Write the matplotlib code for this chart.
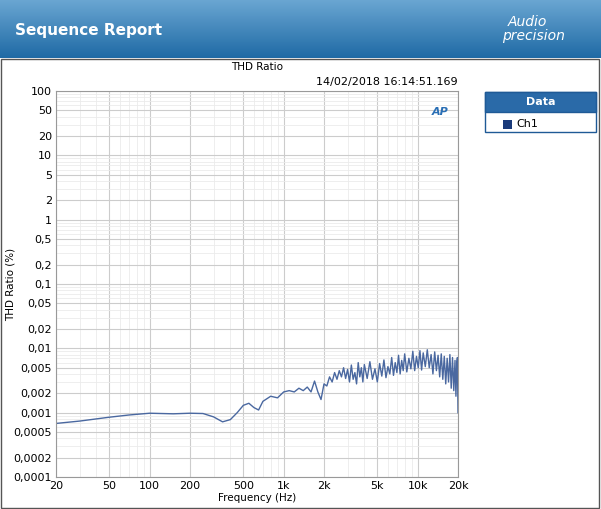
import matplotlib
matplotlib.use("Agg")
import matplotlib.pyplot as plt
from matplotlib.patches import Rectangle
from matplotlib.colors import LinearSegmentedColormap
import numpy as np

freq_hz = [20, 30, 50, 70, 100, 150, 200, 250, 300, 350, 400, 450, 500, 550, 600, 650, 700, 800, 900, 1000,
           1100, 1200, 1300, 1400, 1500, 1600, 1700, 1800, 1900, 2000, 2100, 2200, 2300, 2400, 2500, 2600,
           2700, 2800, 2900, 3000, 3100, 3200, 3300, 3400, 3500, 3600, 3700, 3800, 3900, 4000, 4200, 4400,
           4600, 4800, 5000, 5200, 5400, 5600, 5800, 6000, 6200, 6400, 6600, 6800, 7000, 7200, 7400, 7600,
           7800, 8000, 8300, 8600, 8900, 9200, 9500, 9800, 10100, 10400, 10700, 11000, 11400, 11800, 12200,
           12600, 13000, 13400, 13800, 14200, 14600, 15000, 15400, 15800, 16200, 16600, 17000, 17400, 17800,
           18200, 18600, 19000, 19300, 19600, 19800, 20000]
thd_pct = [0.00068, 0.00074, 0.00085, 0.00092, 0.00098, 0.00096, 0.00098, 0.00097, 0.00086, 0.00072, 0.00078,
           0.001, 0.0013, 0.0014, 0.0012, 0.0011, 0.0015, 0.0018, 0.0017, 0.0021,
           0.0022, 0.0021, 0.0024, 0.0022, 0.0025, 0.0021, 0.0031, 0.0021, 0.0016, 0.0028, 0.0026, 0.0036,
           0.0030, 0.0042, 0.0033, 0.0045, 0.0036, 0.0050, 0.0034, 0.0047, 0.0030, 0.0055, 0.0033, 0.0042,
           0.0028, 0.0060, 0.0036, 0.0050, 0.0030, 0.0056, 0.0034, 0.0062, 0.0033, 0.0048, 0.0030, 0.0058,
           0.0037, 0.0066, 0.0035, 0.0052, 0.0040, 0.0072, 0.0038, 0.0060, 0.0042, 0.0078, 0.0040, 0.0065,
           0.0045, 0.0082, 0.0043, 0.0070, 0.0048, 0.0090, 0.0045, 0.0075, 0.0050, 0.0092, 0.0046, 0.0085,
           0.0052, 0.0095, 0.0050, 0.0080, 0.0040, 0.0088, 0.0045, 0.0078, 0.0036, 0.0082, 0.0033, 0.0075,
           0.0028, 0.0070, 0.0030, 0.0080, 0.0024, 0.0072, 0.0022, 0.0065, 0.0018, 0.0060, 0.0072, 0.0010]

yticks = [100, 50, 20, 10, 5, 2, 1, 0.5, 0.2, 0.1, 0.05, 0.02, 0.01, 0.005, 0.002, 0.001, 0.0005, 0.0002, 0.0001]
ytick_labels = ["100", "50", "20", "10", "5", "2", "1", "0,5", "0,2", "0,1", "0,05", "0,02", "0,01", "0,005",
                "0,002", "0,001", "0,0005", "0,0002", "0,0001"]
xticks = [20, 50, 100, 200, 500, 1000, 2000, 5000, 10000, 20000]
xtick_labels = ["20", "50", "100", "200", "500", "1k", "2k", "5k", "10k", "20k"]

W, H = 601, 509
fig = plt.figure(figsize=(W / 100, H / 100), dpi=100)
fig.patch.set_facecolor("white")

hdr = fig.add_axes([0, 1 - 58 / H, 1, 58 / H])
grad = np.linspace(0, 1, 256).reshape(-1, 1)
cm = LinearSegmentedColormap.from_list("h", ["#6aa6d2", "#1f6aa5"])
hdr.imshow(grad, aspect="auto", cmap=cm, extent=[0, 1, 0, 1])
hdr.set_axis_off()
fig.text(15 / W, 1 - 30 / H, "Sequence Report", color="white", fontsize=11, fontweight="bold",
         va="center", family="DejaVu Sans")
fig.text(527 / W, 1 - 22 / H, "Audio", color="white", fontsize=10, style="italic", ha="center", va="center")
fig.text(533 / W, 1 - 36 / H, "precision", color="white", fontsize=10, style="italic", ha="center", va="center")

fig.patches.append(Rectangle((1 / W, 1 / H), (W - 3) / W, (H - 60) / H, transform=fig.transFigure,
                             fill=False, edgecolor="#555555", lw=1))

ax = fig.add_axes([56 / W, 1 - 477 / H, (458 - 56) / W, (477 - 91) / H])
ax.plot(freq_hz, thd_pct, color="#4a68a0", lw=1.0)
ax.set_xscale("log")
ax.set_yscale("log")
ax.set_xlim(20, 20000)
ax.set_ylim(0.0001, 100)
ax.set_yticks(yticks)
ax.set_yticklabels(ytick_labels, fontsize=8)
ax.set_xticks(xticks)
ax.set_xticklabels(xtick_labels, fontsize=8)
ax.yaxis.set_minor_locator(matplotlib.ticker.LogLocator(base=10, subs=np.arange(2, 10)))
ax.xaxis.set_minor_locator(matplotlib.ticker.LogLocator(base=10, subs=np.arange(2, 10)))
ax.yaxis.set_minor_formatter(matplotlib.ticker.NullFormatter())
ax.xaxis.set_minor_formatter(matplotlib.ticker.NullFormatter())
ax.grid(True, which="major", color="#cccccc", lw=0.8)
ax.grid(True, which="minor", color="#ebebeb", lw=0.6)
ax.tick_params(which="both", length=0, pad=3)
for s in ax.spines.values():
    s.set_color("#999999")
    s.set_linewidth(0.8)
ax.set_xlabel("Frequency (Hz)", fontsize=7.5, labelpad=1)
fig.text(11 / W, 1 - 284 / H, "THD Ratio (%)", fontsize=7.5, rotation=90, ha="center", va="center")
ax.text(0.5, 1.055, "THD Ratio", transform=ax.transAxes, ha="center", fontsize=7.5)
ax.text(1.0, 1.015, "14/02/2018 16:14:51.169", transform=ax.transAxes, ha="right", fontsize=8)
ax.text(0.955, 0.945, "AP", transform=ax.transAxes, ha="center", va="center", fontsize=8,
        color="#2a6fb5", style="italic", fontweight="bold")

lx, ly, lw_, lh = 485, 92, 111, 40
fig.patches.append(Rectangle((lx / W, 1 - (ly + lh) / H), lw_ / W, lh / H, transform=fig.transFigure,
                             facecolor="white", edgecolor="#1f5a96", lw=1))
fig.patches.append(Rectangle((lx / W, 1 - (ly + 20) / H), lw_ / W, 20 / H, transform=fig.transFigure,
                             facecolor="#2a6aa8", edgecolor="#1f5a96", lw=1))
fig.text((lx + lw_ / 2) / W, 1 - (ly + 10) / H, "Data", color="white", fontsize=8, fontweight="bold",
         ha="center", va="center")
fig.patches.append(Rectangle((503 / W, 1 - 129 / H), 9 / W, 9 / H, transform=fig.transFigure,
                             facecolor="#1a3a7a", edgecolor="none"))
fig.text(516 / W, 1 - 124 / H, "Ch1", fontsize=8, va="center")

fig.savefig("out.png", dpi=100)
